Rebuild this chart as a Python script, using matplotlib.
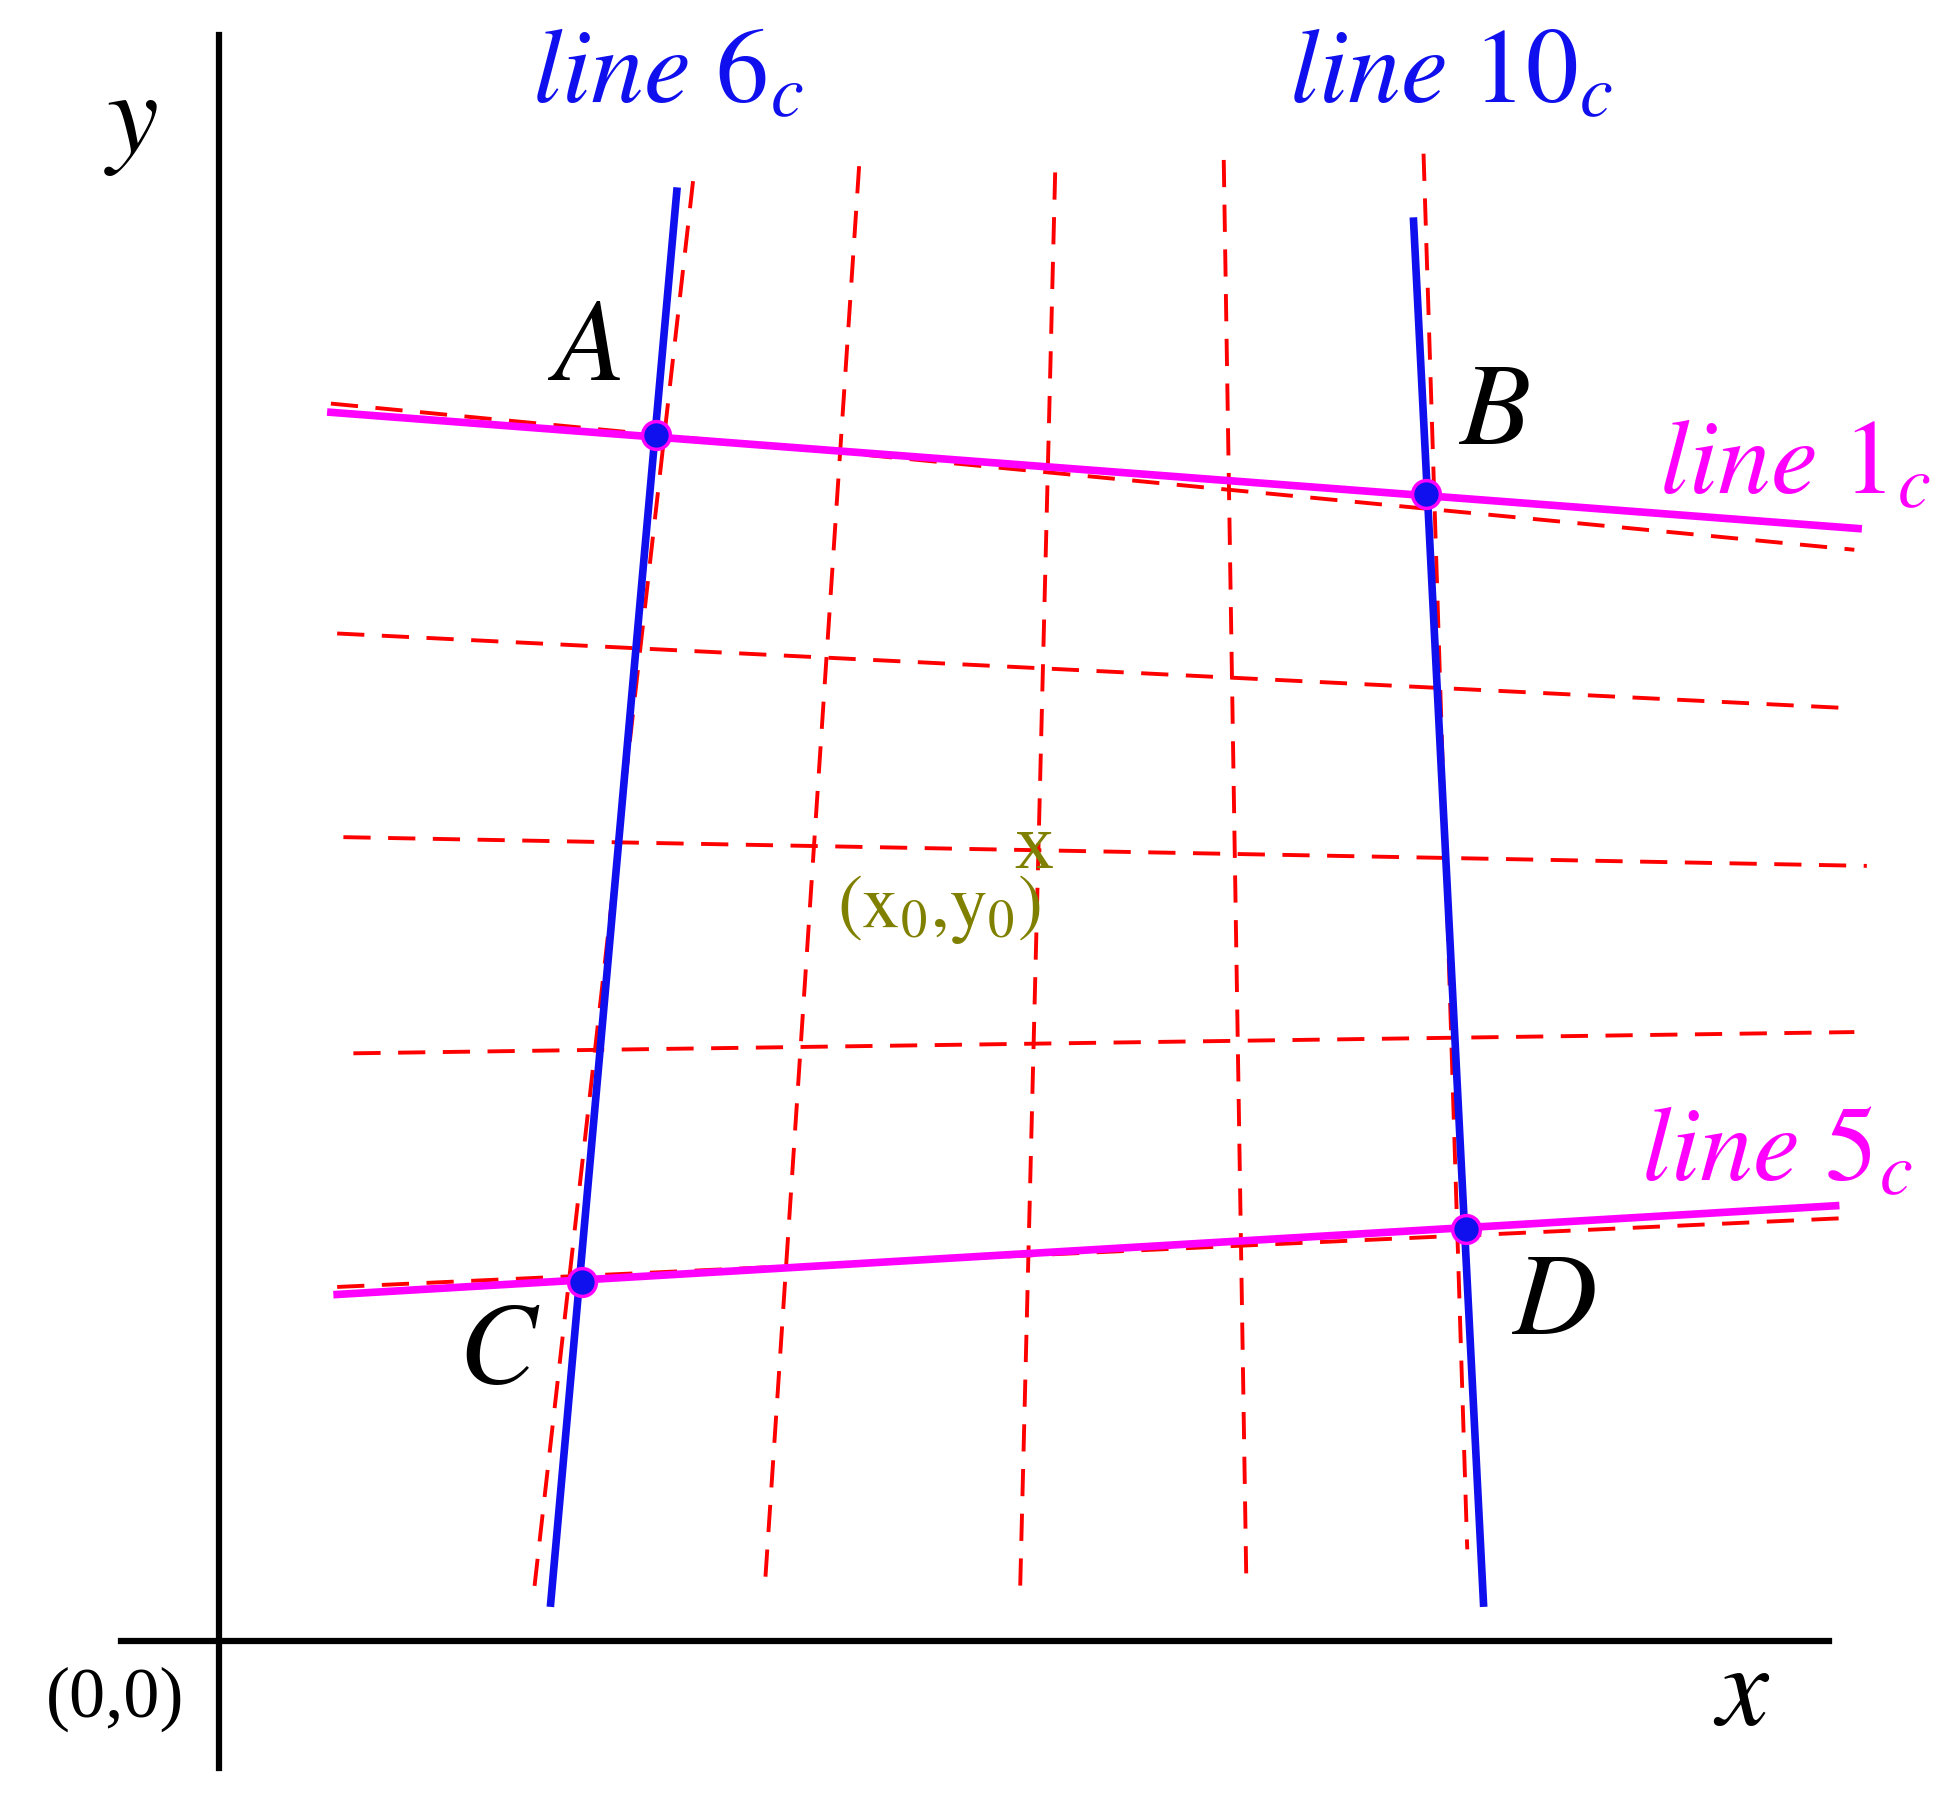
import matplotlib
matplotlib.use("Agg")
import matplotlib.pyplot as plt

plt.rcParams['mathtext.fontset'] = 'stix'
plt.rcParams['font.family'] = ['Liberation Serif', 'DejaVu Serif']

# coordinates in a 1560x1435 canvas (y down)
red_h = [((265,323),(1485,440)), ((270,507),(1485,567)), ((275,670),(1495,693)),
         ((283,843),(1485,826)), ((270,1030),(1475,975))]
red_v = [((555,145),(428,1270)), ((688,133),(613,1262)), ((845,138),(817,1270)),
         ((980,128),(998,1260)), ((1140,123),(1175,1240))]
blue = [((542,153),(441,1283)), ((1132,177),(1188,1283))]
magenta = [((265,330),(1488,423)), ((270,1036),(1470,965))]
points = {'A':(525,348), 'B':(1142,395), 'C':(466,1026), 'D':(1174,984)}
point_labels = {'A':(468,282), 'B':(1197,333), 'C':(400,1085), 'D':(1245,1045)}

fig = plt.figure(figsize=(19.48,17.93), dpi=100)
ax = fig.add_axes([0,0,1,1])
ax.set_xlim(0,1560); ax.set_ylim(1435,0); ax.axis('off')

ax.plot([175,175],[28,1415],color='black',lw=4.5)
ax.plot([97,1465],[1313,1313],color='black',lw=4.5)

for (a,b) in red_h+red_v:
    ax.plot([a[0],b[0]],[a[1],b[1]],color='red',lw=2.8,ls=(0,(7,4.5)))
for (a,b) in blue:
    ax.plot([a[0],b[0]],[a[1],b[1]],color='#1010ee',lw=5.5)
for (a,b) in magenta:
    ax.plot([a[0],b[0]],[a[1],b[1]],color='#ff00ff',lw=5.5)
for k,(x,y) in points.items():
    ax.plot(x,y,'o',ms=20,color='#1010ee',mec='#ff00ff',mew=2.5)
    lx,ly = point_labels[k]
    ax.text(lx,ly,'$'+k+'$',fontsize=84,ha='center',va='center')

ax.text(535,62,r'$line\ 6_c$',fontsize=76,color='#1010ee',ha='center',va='center')
ax.text(1162,62,r'$line\ 10_c$',fontsize=76,color='#1010ee',ha='center',va='center')
ax.text(1437,375,r'$line\ 1_c$',fontsize=76,color='#ff00ff',ha='center',va='center')
ax.text(1423,925,r'$line\ 5_c$',fontsize=76,color='#ff00ff',ha='center',va='center')
ax.text(105,100,r'$y$',fontsize=84,ha='center',va='center')
ax.text(1395,1358,r'$x$',fontsize=84,ha='center',va='center')
ax.text(92,1360,'(0,0)',fontsize=52,ha='center',va='center')
ax.text(828,680,'x',fontsize=56,color='#808000',ha='center',va='center')
ax.text(752,728,r'$\mathrm{(x_0{,}y_0)}$',fontsize=54,color='#808000',ha='center',va='center')

fig.savefig('out.png',dpi=100)
